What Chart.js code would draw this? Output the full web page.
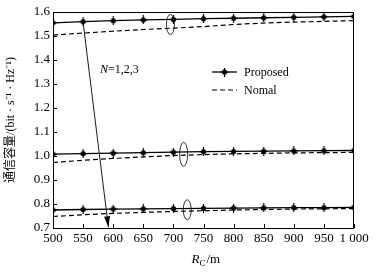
<!DOCTYPE html>
<html lang="zh">
<head>
<meta charset="UTF-8">
<title>通信容量</title>
<script src="https://cdn.jsdelivr.net/npm/chart.js"></script>
<style>
  html, body { margin: 0; padding: 0; background: #fff; }
</style>
</head>
<body>
<canvas id="chart" width="376" height="274"></canvas>
<script>
// data
const radius = [500, 550, 600, 650, 700, 750, 800, 850, 900, 950, 1000];
const xTickLabels = ['500', '550', '600', '650', '700', '750', '800', '850', '900', '950', '1 000'];
const yTickValues = [0.7, 0.8, 0.9, 1.0, 1.1, 1.2, 1.3, 1.4, 1.5, 1.6];

const proposedN1 = [1.555, 1.560, 1.564, 1.567, 1.569, 1.572, 1.574, 1.576, 1.578, 1.580, 1.582];
const normalN1   = [1.504, 1.512, 1.520, 1.527, 1.533, 1.539, 1.548, 1.554, 1.558, 1.561, 1.564];
const proposedN2 = [1.008, 1.010, 1.012, 1.014, 1.016, 1.018, 1.019, 1.020, 1.021, 1.022, 1.023];
const normalN2   = [0.973, 0.982, 0.990, 0.996, 1.002, 1.006, 1.009, 1.011, 1.013, 1.014, 1.015];
const proposedN3 = [0.775, 0.777, 0.779, 0.780, 0.781, 0.782, 0.783, 0.784, 0.785, 0.785, 0.786];
const normalN3   = [0.748, 0.755, 0.761, 0.765, 0.769, 0.772, 0.775, 0.777, 0.779, 0.780, 0.781];

const serif = '"Liberation Serif", "Times New Roman", serif';

// star-ish filled marker
const marker = document.createElement('canvas');
marker.width = 9; marker.height = 9;
(function () {
  const c = marker.getContext('2d');
  c.fillStyle = '#000';
  c.strokeStyle = '#000';
  c.beginPath(); c.arc(4.5, 4.5, 2.6, 0, Math.PI * 2); c.fill();
  c.lineWidth = 1.2;
  c.beginPath();
  c.moveTo(4.5, 0); c.lineTo(4.5, 9);
  c.moveTo(0.5, 4.5); c.lineTo(8.5, 4.5);
  c.stroke();
})();

function pts(arr) { return radius.map((r, i) => ({ x: r, y: arr[i] })); }

function proposed(arr) {
  return { label: 'Proposed', data: pts(arr), borderColor: '#000', borderWidth: 1.3,
    pointStyle: marker, pointRadius: 4, tension: 0 };
}
function normal(arr) {
  return { label: 'Nomal', data: pts(arr), borderColor: '#000', borderWidth: 1.2,
    borderDash: [5, 3], pointRadius: 0, tension: 0 };
}

const decor = {
  id: 'decor',
  afterDraw(chart) {
    const { ctx, chartArea: a, scales: { x, y } } = chart;
    ctx.save();
    ctx.strokeStyle = '#000';
    ctx.fillStyle = '#000';
    ctx.lineWidth = 1;
    ctx.strokeRect(a.left + 0.5, a.top + 0.5, a.right - a.left - 1, a.bottom - a.top);

    // inward ticks
    ctx.beginPath();
    radius.forEach(v => {
      const px = Math.round(x.getPixelForValue(v)) + 0.5;
      ctx.moveTo(px, a.bottom); ctx.lineTo(px, a.bottom - 4);
    });
    yTickValues.forEach(v => {
      const py = Math.round(y.getPixelForValue(v)) + 0.5;
      ctx.moveTo(a.left, py); ctx.lineTo(a.left + 4, py);
    });
    ctx.stroke();

    // ellipses marking each pair
    ctx.lineWidth = 0.8;
    [[695, 1.548, 10], [717, 1.007, 12], [723, 0.776, 10]].forEach(([vx, vy, ry]) => {
      ctx.beginPath();
      ctx.ellipse(x.getPixelForValue(vx), y.getPixelForValue(vy), 4, ry, 0, 0, Math.PI * 2);
      ctx.stroke();
    });

    // arrow
    const x0 = x.getPixelForValue(550), y0 = y.getPixelForValue(1.557);
    const x1 = x.getPixelForValue(592), y1 = y.getPixelForValue(0.703);
    ctx.lineWidth = 0.9;
    ctx.beginPath(); ctx.moveTo(x0, y0); ctx.lineTo(x1, y1); ctx.stroke();
    const ang = Math.atan2(y1 - y0, x1 - x0);
    ctx.beginPath();
    ctx.moveTo(x1, y1);
    ctx.lineTo(x1 - 11 * Math.cos(ang) + 3 * Math.sin(ang), y1 - 11 * Math.sin(ang) - 3 * Math.cos(ang));
    ctx.lineTo(x1 - 11 * Math.cos(ang) - 3 * Math.sin(ang), y1 - 11 * Math.sin(ang) + 3 * Math.cos(ang));
    ctx.closePath(); ctx.fill();

    // N=1,2,3
    let tx = x.getPixelForValue(578), ty = y.getPixelForValue(1.345);
    ctx.textBaseline = 'alphabetic';
    ctx.textAlign = 'left';
    ctx.font = 'italic 12px ' + serif;
    ctx.fillText('N', tx, ty);
    tx += ctx.measureText('N').width;
    ctx.font = '12px ' + serif;
    ctx.fillText('=1,2,3', tx, ty);

    // legend
    const lx = 212, ly1 = 72, ly2 = 90;
    ctx.lineWidth = 1.3;
    ctx.beginPath(); ctx.moveTo(lx, ly1); ctx.lineTo(lx + 25, ly1); ctx.stroke();
    ctx.drawImage(marker, lx + 8, ly1 - 4.5);
    ctx.lineWidth = 1.2;
    ctx.setLineDash([5, 3]);
    ctx.beginPath(); ctx.moveTo(lx, ly2); ctx.lineTo(lx + 25, ly2); ctx.stroke();
    ctx.setLineDash([]);
    ctx.font = '12px ' + serif;
    ctx.textBaseline = 'middle';
    ctx.fillText(chart.data.datasets[0].label, lx + 32, ly1 + 1);
    ctx.fillText(chart.data.datasets[1].label, lx + 32, ly2 + 1);

    // x title R_C/m
    const cx = (a.left + a.right) / 2 - 12, by = 263;
    ctx.textBaseline = 'alphabetic';
    ctx.font = 'italic 13px ' + serif;
    ctx.fillText('R', cx, by);
    let w = ctx.measureText('R').width;
    ctx.font = '9px ' + serif;
    ctx.fillText('C', cx + w, by + 3);
    w += ctx.measureText('C').width + 1;
    ctx.font = '13px ' + serif;
    ctx.fillText('/m', cx + w, by);
    ctx.restore();
  }
};

new Chart(document.getElementById('chart'), {
  type: 'line',
  data: {
    datasets: [
      proposed(proposedN1), normal(normalN1),
      proposed(proposedN2), normal(normalN2),
      proposed(proposedN3), normal(normalN3)
    ]
  },
  options: {
    responsive: false,
    animation: false,
    layout: { padding: { top: 12, right: 22, left: 0, bottom: 0 } },
    plugins: { legend: { display: false }, tooltip: { enabled: false } },
    scales: {
      x: {
        type: 'linear', min: 500, max: 1000,
        grid: { display: false, drawTicks: false },
        border: { display: false },
        afterBuildTicks: s => { s.ticks = radius.map(v => ({ value: v })); },
        afterFit: s => { s.height = 46; },
        ticks: {
          autoSkip: false, maxRotation: 0, padding: 3, color: '#000',
          font: { family: serif, size: 13 },
          callback: v => xTickLabels[radius.indexOf(v)]
        }
      },
      y: {
        type: 'linear', min: 0.7, max: 1.6,
        grid: { display: false, drawTicks: false },
        border: { display: false },
        afterBuildTicks: s => { s.ticks = yTickValues.map(v => ({ value: v })); },
        afterFit: s => { s.width = 53; },
        ticks: {
          padding: 3, color: '#000',
          font: { family: serif, size: 13 },
          callback: v => v.toFixed(1)
        },
        title: {
          display: true, color: '#000',
          text: '通信容量/(bit · s⁻¹ · Hz⁻¹)',
          font: { family: '"Liberation Serif", "Noto Sans CJK SC", serif', size: 12 },
          padding: { top: 4, bottom: 0 }
        }
      }
    }
  },
  plugins: [decor]
});
</script>
</body>
</html>
